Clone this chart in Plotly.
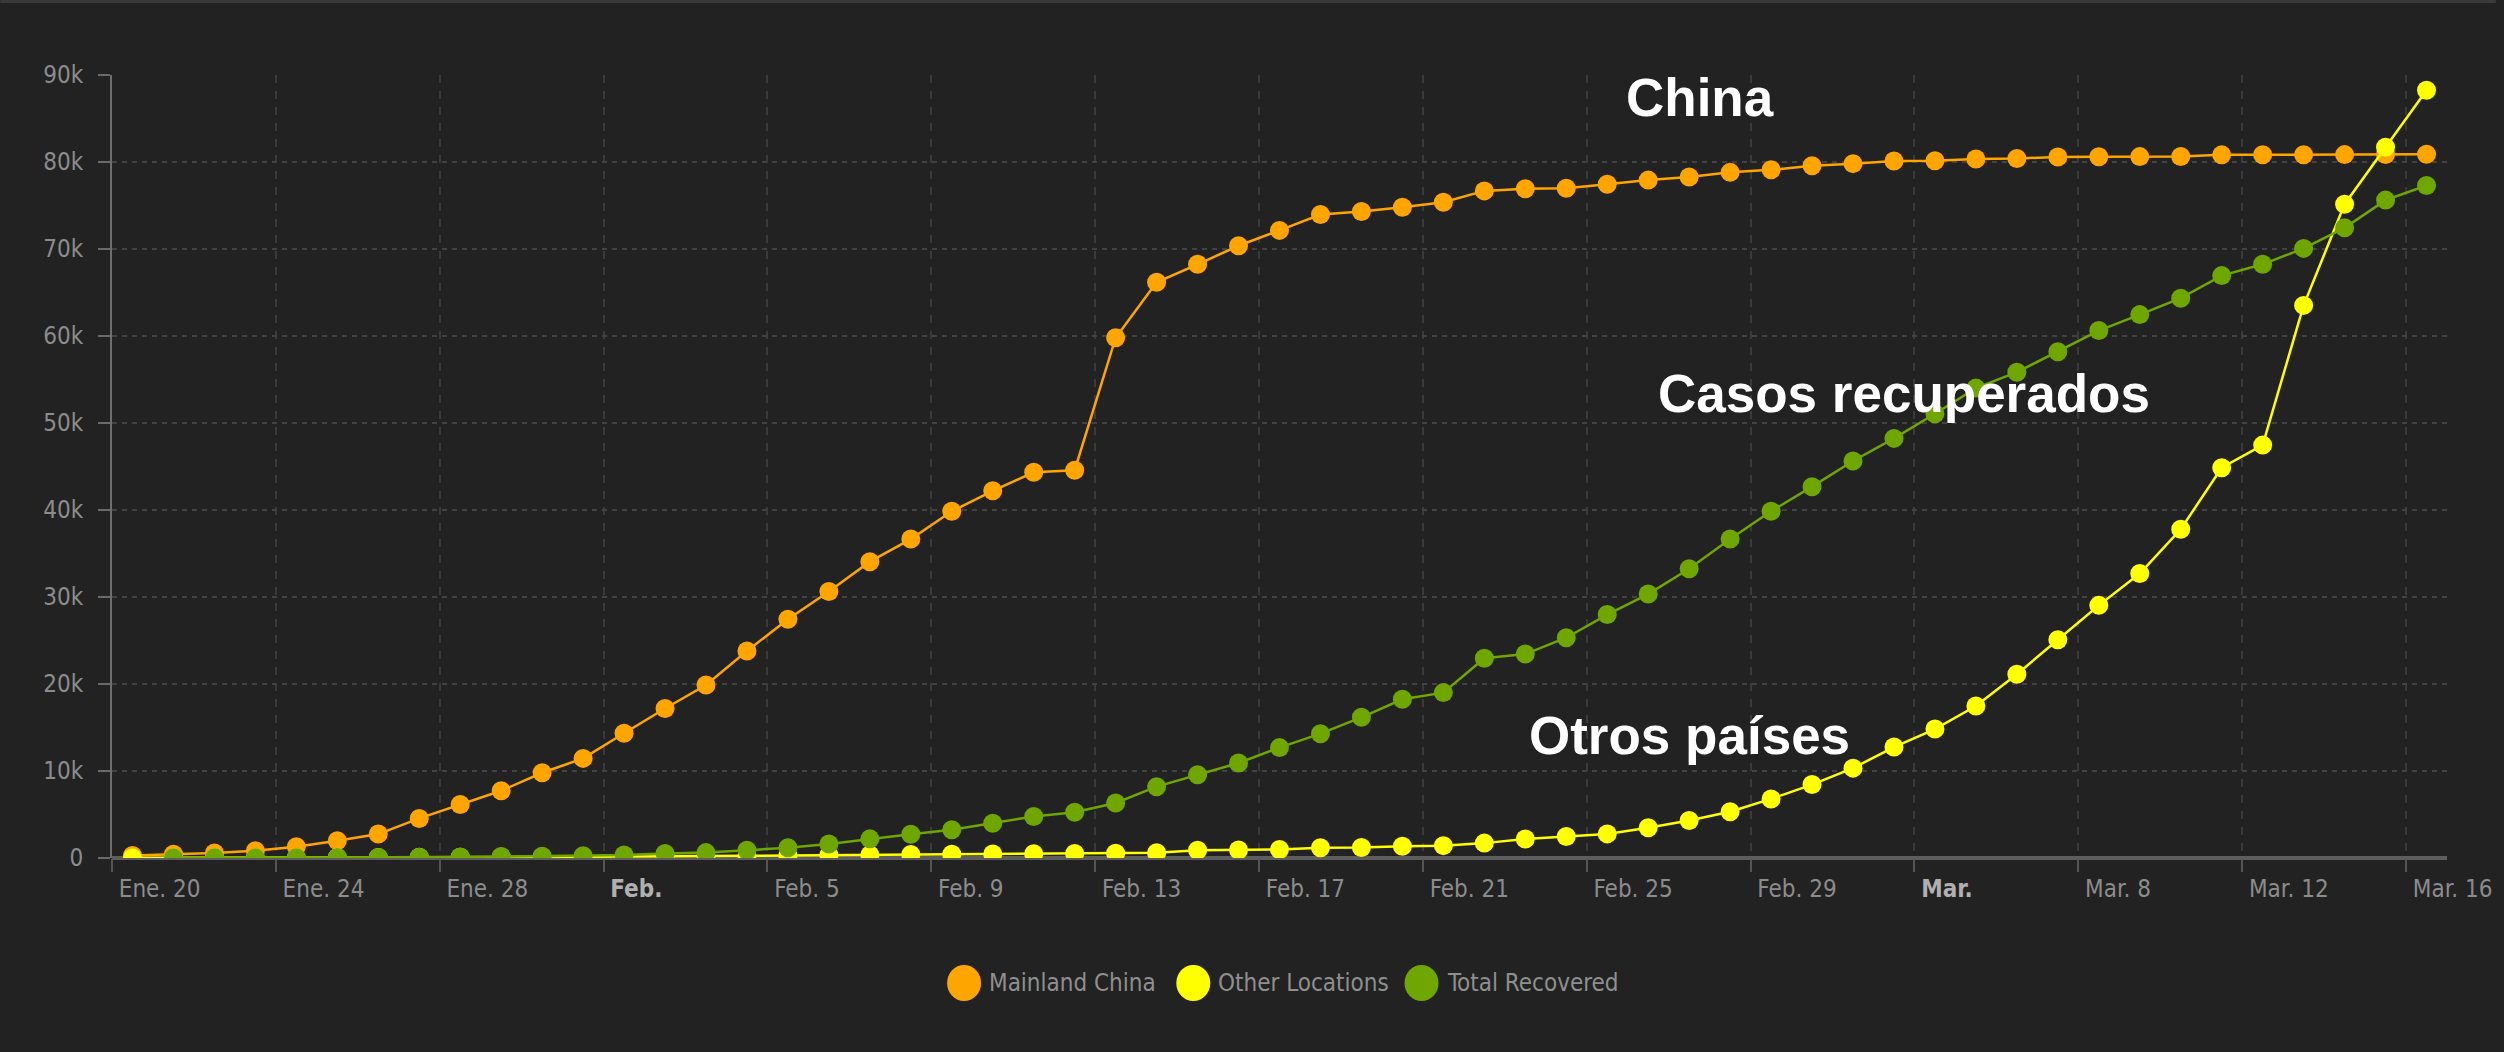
import plotly.graph_objects as go
import pandas as pd

# ---- data ----
start_date = "2020-01-20 12:00"
n_days = 57
dates = pd.date_range(start_date, periods=n_days, freq="D")

mainland_china = [290, 440, 570, 830, 1290, 1980, 2750, 4550, 6140, 7730, 9800, 11450,
                  14340, 17180, 19890, 23790, 27450, 30640, 34060, 36660, 39850, 42210,
                  44330, 44570, 59800, 66180, 68240, 70370, 72140, 73970, 74320, 74790,
                  75380, 76680, 76920, 76980, 77450, 77920, 78280, 78810, 79100,
                  79570, 79810, 80110, 80150, 80340, 80400, 80580, 80600, 80620, 80640,
                  80820, 80830, 80840, 80850, 80860, 80880]

other_locations = [10, 15, 20, 30, 40, 55, 70, 80, 100, 110, 130, 150,
                   160, 180, 230, 260, 290, 320, 360, 400, 440, 470, 500, 520, 560, 600,
                   900, 930, 970, 1180, 1200, 1360, 1420, 1710, 2180, 2480, 2770, 3480,
                   4310, 5310, 6790,
                   8440, 10330, 12750, 14820, 17470, 21130, 25090, 29040, 32700, 37780,
                   44860, 47460, 63520, 75150, 81700, 88250]

total_recovered = [None, 30, 30, 35, 40, 50, 60, 100, 120, 170, 200, 260,
                   340, 520, 620, 900, 1180, 1600, 2200, 2720, 3250, 4000, 4780, 5250,
                   6320, 8200, 9560, 10920, 12690, 14290, 16170, 18240, 19010, 22960,
                   23440, 25320, 27980, 30340, 33240, 36660, 39850,
                   42680, 45630, 48230, 51060, 54010, 55840, 58200, 60630, 62460, 64350,
                   66940, 68240, 70070, 72430, 75620, 77300]

series_names = ["Mainland China", "Other Locations", "Total Recovered"]
series_colors = ["#FFA500", "#FFFF00", "#6FA600"]

x_tick_dates = ["2020-01-20", "2020-01-24", "2020-01-28", "2020-02-01", "2020-02-05",
                "2020-02-09", "2020-02-13", "2020-02-17", "2020-02-21", "2020-02-25",
                "2020-02-29", "2020-03-04", "2020-03-08", "2020-03-12", "2020-03-16"]
x_tick_labels = ["Ene. 20", "Ene. 24", "Ene. 28",
                 "<span style='color:#b0b0b0'><b>Feb.</b></span>", "Feb. 5", "Feb. 9",
                 "Feb. 13", "Feb. 17", "Feb. 21", "Feb. 25", "Feb. 29",
                 "<span style='color:#b0b0b0'><b>Mar.</b></span>",
                 "Mar. 8", "Mar. 12", "Mar. 16"]
y_tick_vals = [0, 10000, 20000, 30000, 40000, 50000, 60000, 70000, 80000, 90000]
y_tick_labels = ["0", "10k", "20k", "30k", "40k", "50k", "60k", "70k", "80k", "90k"]

labels_text = ["China", "Casos recuperados", "Otros países"]

# ---- layout geometry (pixels) ----
W, H = 2504, 1052
L, R, T, B = 112, 2455, 75, 858


def px(xp):
    return (xp - L) / (R - L)


def py(yp):
    return (B - yp) / (B - T)


BG = "#222222"
TICK_FONT = "Liberation Sans Narrow, DejaVu Sans Condensed, Liberation Sans, sans-serif"
TICK_SIZE = 24

fig = go.Figure()
for name, vals, col in zip(series_names, [mainland_china, other_locations, total_recovered],
                           series_colors):
    fig.add_trace(go.Scatter(
        x=dates, y=vals, name=name, mode="lines+markers",
        line=dict(color=col, width=2.5),
        marker=dict(color=col, size=19, line=dict(width=0)),
        showlegend=False,
    ))

# big white labels
label_pos = [(1629, 97), (1661, 393), (1532, 735)]
annotations = []
for txt, (lx, ly) in zip(labels_text, label_pos):
    annotations.append(dict(
        text="<b>" + txt + "</b>", xref="paper", yref="paper", x=px(lx), y=py(ly),
        xanchor="left", yanchor="middle", showarrow=False,
        font=dict(family="Liberation Sans, Arial, sans-serif", size=53, color="white"),
    ))

# custom legend (large round swatches)
shapes = []
legend_y = 983
legend_items = [(967, 992), (1197, 1222), (1426, 1452)]
for (cx, tx), name, col in zip(legend_items, series_names, series_colors):
    shapes.append(dict(
        type="circle", xref="paper", yref="paper",
        xsizemode="pixel", ysizemode="pixel",
        xanchor=px(cx), yanchor=py(legend_y),
        x0=-17, x1=17, y0=-18, y1=18,
        fillcolor=col, line=dict(width=0),
    ))
    annotations.append(dict(
        text=name, xref="paper", yref="paper", x=px(tx - 2), y=py(legend_y),
        xanchor="left", yanchor="middle", showarrow=False,
        font=dict(family=TICK_FONT, size=TICK_SIZE, color="#8f8f8f"),
    ))

# thin frame line at the very top of the page
shapes.append(dict(type="rect", xref="paper", yref="paper",
                   x0=px(0), x1=px(W), y0=py(3), y1=py(0),
                   fillcolor="#3a3a3a", line=dict(width=0), layer="below"))

fig.update_layout(
    width=W, height=H,
    margin=dict(l=L, r=W - R, t=T, b=H - B, pad=0),
    paper_bgcolor=BG, plot_bgcolor=BG,
    showlegend=False,
    annotations=annotations,
    shapes=shapes,
    xaxis=dict(
        type="date",
        range=["2020-01-20", "2020-03-17"],
        tickmode="array", tickvals=x_tick_dates, ticktext=x_tick_labels,
        ticks="outside", ticklen=13, tickwidth=1.5, tickcolor="#555555",
        ticklabelposition="outside right", ticklabelshift=6,
        ticklabelstandoff=9,
        ticklabeloverflow="allow",
        tickfont=dict(family=TICK_FONT, size=TICK_SIZE, color="#8c8c8c"),
        showgrid=True, gridcolor="#3a3a3a", gridwidth=1.5, griddash="8px,8px",
        showline=False, zeroline=False, fixedrange=True,
    ),
    yaxis=dict(
        range=[0, 90000],
        tickmode="array", tickvals=y_tick_vals, ticktext=y_tick_labels,
        ticks="outside", ticklen=12, tickwidth=2, tickcolor="#6a6a6a",
        tickfont=dict(family=TICK_FONT, size=TICK_SIZE, color="#8c8c8c"),
        ticklabelstandoff=10,
        showgrid=True, gridcolor="#424242", gridwidth=2, griddash="5px,5px",
        showline=True, linecolor="#6f6f6f", linewidth=2,
        zeroline=True, zerolinecolor="#5e5e5e", zerolinewidth=4,
        fixedrange=True,
    ),
)

page_js = ("document.body.style.margin='0';"
           "document.body.style.backgroundColor='#222222';"
           "document.documentElement.style.overflow='hidden';")

fig.write_html("out.html", post_script=page_js, config={"displayModeBar": False})
